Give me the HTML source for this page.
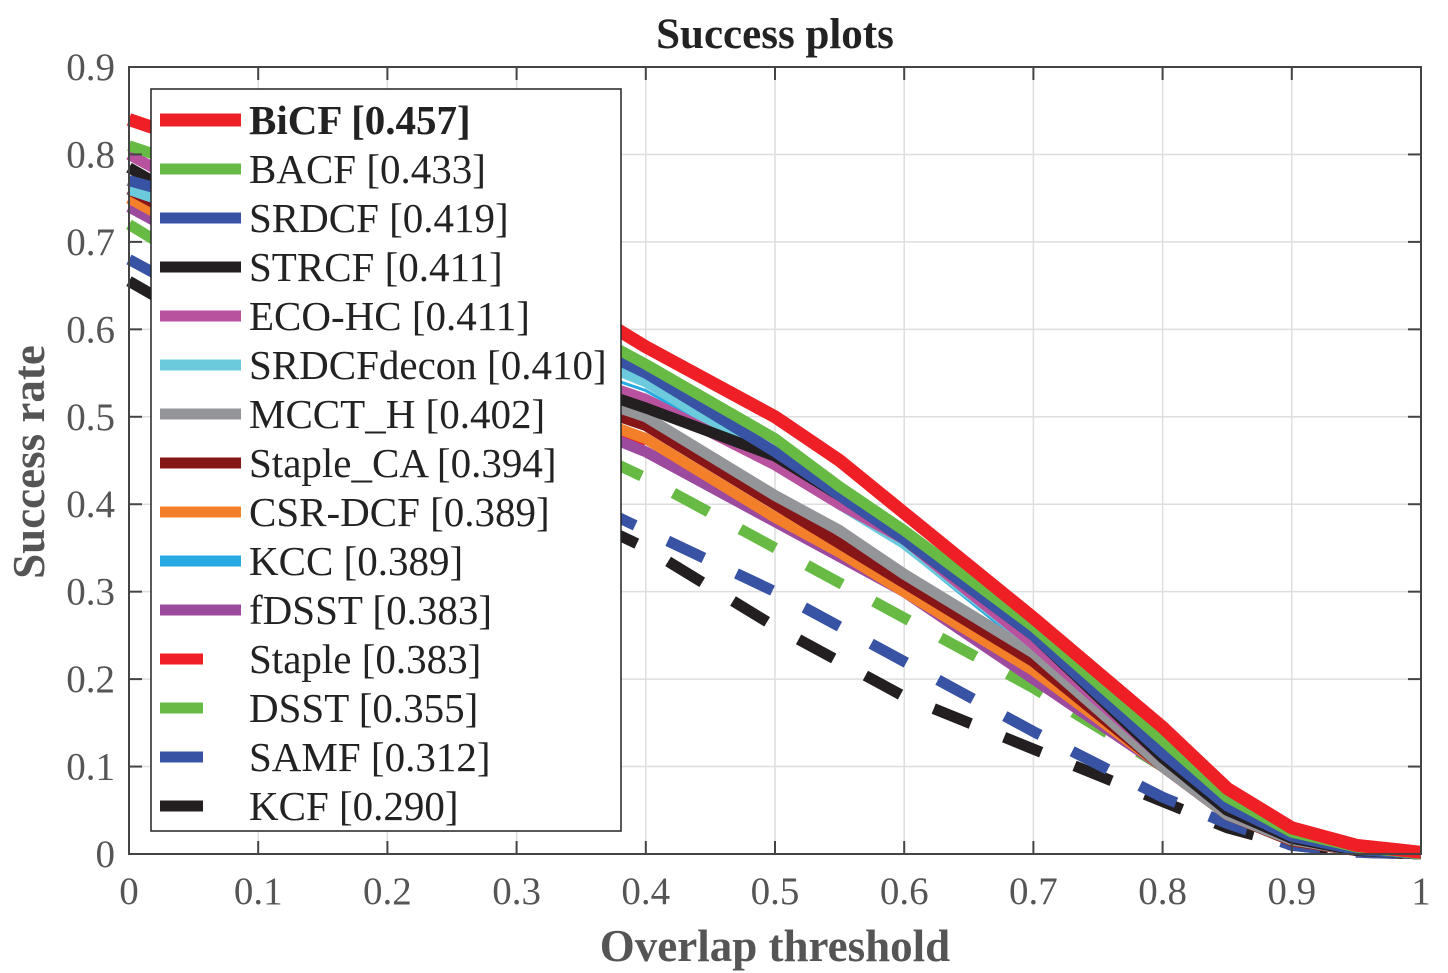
<!DOCTYPE html>
<html><head><meta charset="utf-8"><style>
body{margin:0;background:#fff}
svg{display:block;font-family:"Liberation Serif",serif}
</style></head><body>
<svg id="chart" width="1448" height="973" viewBox="0 0 1448 973">
<rect width="1448" height="973" fill="#fff"/>
<text x="775" y="48" font-size="43" font-weight="bold" text-anchor="middle" fill="#222">Success plots</text>
<g id="grid"></g>
<g id="series"></g>
<g id="axes"></g>
<text x="775" y="961" font-size="45" font-weight="bold" text-anchor="middle" fill="#555">Overlap threshold</text>
<text transform="translate(44,462) rotate(-90)" font-size="45" font-weight="bold" text-anchor="middle" fill="#555">Success rate</text>
<g id="legend"></g>
</svg>
<script>
const thresholds=[0,0.1,0.2,0.3,0.4,0.5,0.55,0.6,0.7,0.8,0.85,0.9,0.95,1];
const names=["BiCF","BACF","SRDCF","STRCF","ECO-HC","SRDCFdecon","MCCT_H","Staple_CA","CSR-DCF","KCC","fDSST","Staple","DSST","SAMF","KCF"];
const aucs=["0.457","0.433","0.419","0.411","0.411","0.410","0.402","0.394","0.389","0.389","0.383","0.383","0.355","0.312","0.290"];
const colors=["#ee1f25","#67bb45","#3853a4","#231f20","#b8519e","#6bcbdd","#939598","#861517","#f47f2b","#27a9e1","#9c4a9e","#ee1f25","#67bb45","#3853a4","#231f20"];
const dashed=[false,false,false,false,false,false,false,false,false,false,false,true,true,true,true];
const sBiCF=[0.84,0.79,0.73,0.67,0.58,0.50,0.45,0.39,0.27,0.145,0.075,0.03,0.01,0.002];
const sBACF=[0.81,0.76,0.70,0.64,0.56,0.475,0.42,0.37,0.26,0.13,0.065,0.025,0.008,0];
const sSRDCF=[0.77,0.73,0.68,0.62,0.55,0.46,0.41,0.36,0.25,0.115,0.055,0.02,0.005,0];
const sSTRCF=[0.785,0.70,0.62,0.56,0.51,0.455,0.41,0.36,0.25,0.11,0.05,0.018,0.004,0];
const sECO=[0.80,0.72,0.64,0.57,0.52,0.445,0.40,0.36,0.24,0.11,0.05,0.018,0.004,0];
const sDecon=[0.76,0.71,0.66,0.60,0.54,0.45,0.40,0.355,0.24,0.11,0.05,0.018,0.004,0];
const sMCCT=[0.77,0.69,0.62,0.55,0.50,0.41,0.37,0.32,0.23,0.10,0.045,0.016,0.004,0];
const sStapleCA=[0.76,0.68,0.61,0.54,0.49,0.40,0.355,0.31,0.22,0.10,0.045,0.015,0.004,0];
const sCSR=[0.75,0.67,0.60,0.53,0.475,0.385,0.345,0.30,0.21,0.10,0.045,0.015,0.004,0];
const sKCC=[0.76,0.70,0.64,0.58,0.53,0.445,0.40,0.35,0.23,0.10,0.045,0.015,0.004,0];
const sfDSST=[0.74,0.66,0.59,0.52,0.46,0.38,0.34,0.30,0.20,0.10,0.045,0.015,0.004,0];
const sStaple=[0.75,0.67,0.60,0.53,0.47,0.385,0.345,0.30,0.21,0.10,0.045,0.015,0.004,0];
const sDSST=[0.72,0.63,0.56,0.50,0.43,0.35,0.31,0.27,0.19,0.10,0.045,0.015,0.004,0];
const sSAMF=[0.68,0.60,0.52,0.44,0.37,0.30,0.26,0.22,0.14,0.065,0.035,0.01,0.002,0];
const sKCF=[0.655,0.57,0.49,0.42,0.35,0.26,0.22,0.18,0.12,0.06,0.03,0.01,0.002,0];
const seriesVals=[sBiCF,sBACF,sSRDCF,sSTRCF,sECO,sDecon,sMCCT,sStapleCA,sCSR,sKCC,sfDSST,sStaple,sDSST,sSAMF,sKCF];
const xTicks=["0","0.1","0.2","0.3","0.4","0.5","0.6","0.7","0.8","0.9","1"];
const yTicks=["0","0.1","0.2","0.3","0.4","0.5","0.6","0.7","0.8","0.9"];

const NS="http://www.w3.org/2000/svg";
const L=129,R=1421,T=67,B=854,YMAX=0.9;
const xs=v=>L+(R-L)*v;
const ys=v=>B-(B-T)*v/YMAX;
function mk(tag,attrs,parent){const e=document.createElementNS(NS,tag);for(const k in attrs)e.setAttribute(k,attrs[k]);parent.appendChild(e);return e;}
const grid=document.getElementById('grid'),axes=document.getElementById('axes'),ser=document.getElementById('series'),leg=document.getElementById('legend');
xTicks.forEach(t=>{const x=xs(parseFloat(t));
 const g=mk('line',{x1:x,x2:x,y1:T,y2:B,stroke:'#dedede','stroke-width':1.5},grid);
 
 
 mk('line',{x1:x,x2:x,y1:B,y2:B-13,stroke:'#444','stroke-width':2},axes);
 mk('line',{x1:x,x2:x,y1:T,y2:T+13,stroke:'#444','stroke-width':2},axes);
 const tx=mk('text',{x:x,y:B+50,'font-size':39,'text-anchor':'middle',fill:'#555'},axes);tx.textContent=t;
 
 
});
yTicks.forEach(t=>{const y=ys(parseFloat(t));
 const g=mk('line',{x1:L,x2:R,y1:y,y2:y,stroke:'#dedede','stroke-width':1.5},grid);
 
 
 mk('line',{x1:L,x2:L+13,y1:y,y2:y,stroke:'#444','stroke-width':2},axes);
 mk('line',{x1:R,x2:R-13,y1:y,y2:y,stroke:'#444','stroke-width':2},axes);
 const tx=mk('text',{x:L-14,y:y+13,'font-size':39,'text-anchor':'end',fill:'#555'},axes);tx.textContent=t;
 
 
});
const box=mk('rect',{x:L,y:T,width:R-L,height:B-T,fill:'none',stroke:'#444','stroke-width':2},axes);


for(let i=seriesVals.length-1;i>=0;i--){
 const d=seriesVals[i].map((v,j)=>(j?'L':'M')+xs(thresholds[j]).toFixed(1)+','+ys(v).toFixed(1)).join(' ');
 const p=mk('path',{d:d,fill:'none',stroke:colors[i],'stroke-width':i==0?13:(i==9?3:11),'stroke-linejoin':'round'},ser);
 if(dashed[i])p.setAttribute('stroke-dasharray','40 36');
 
 
}
const lb=mk('rect',{x:151,y:89,width:470,height:742,fill:'#fff',stroke:'#222','stroke-width':1.5},leg);


names.forEach((n,i)=>{const y=120+i*49;
 const g=mk('g',{},leg);
 
 
 const ln=mk('line',{x1:160,x2:241,y1:y,y2:y,stroke:colors[i],'stroke-width':i==0?13:11},g);
 if(dashed[i])ln.setAttribute('x2',203);
 const t=mk('text',{x:249,y:y+14,'font-size':41,fill:'#222'},g);
 if(i==0)t.setAttribute('font-weight','bold');
 t.textContent=n+' ['+aucs[i]+']';
});
</script>
</body></html>
